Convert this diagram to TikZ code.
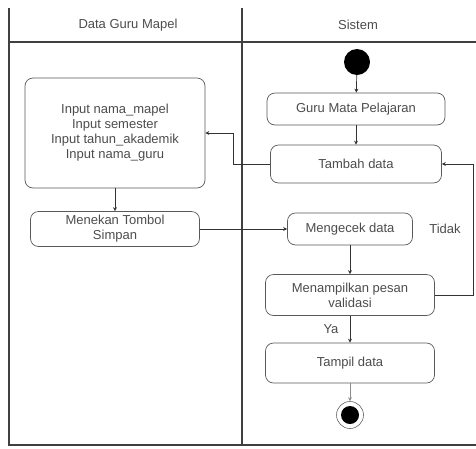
\documentclass[tikz,border=0pt]{standalone}
\usepackage{fontspec}
\setmainfont{Liberation Sans}
\usetikzlibrary{arrows.meta}
\newcommand{\dfont}{\fontsize{13}{15}\selectfont}
\tikzset{
  act/.style={draw=black!65, rounded corners=8pt, line width=0.7pt, align=center,
    font=\dfont, text=black!70, inner sep=0pt},
  flow/.style={-{Stealth[length=4pt,width=4pt]}, draw=black!80, line width=0.7pt},
  lane/.style={draw=black!75, line width=1.3pt},
  lbl/.style={font=\dfont, text=black!70, inner sep=0pt}
}
\begin{document}
\begin{tikzpicture}[x=1pt,y=-1pt]
\useasboundingbox (0,0) rectangle (476,448);
% swimlanes
\draw[lane] (9,8) -- (9,445) -- (476,445);
\draw[lane] (242,8) -- (242,445);
\draw[lane] (9,42) -- (476,42);
\node[lbl] (h1) at (128,25) {Data Guru Mapel};
\node[lbl] (h2) at (358,25) {Sistem};
% nodes
\node[circle, fill=black, minimum size=26pt, inner sep=0pt] (start) at (357,62) {};
\node[act, minimum width=178pt, minimum height=32pt] (guru) at (356,109) {Guru Mata Pelajaran};
\node[act, minimum width=171pt, minimum height=38pt] (tambah) at (356,164) {Tambah data};
\node[act, minimum width=125pt, minimum height=32pt] (cek) at (350,229) {Mengecek data};
\node[act, minimum width=169pt, minimum height=41pt] (pesan) at (350,295) {Menampilkan pesan\\validasi};
\node[act, minimum width=169pt, minimum height=40pt] (tampil) at (350,363) {Tampil data};
\node[circle, draw=black!60, line width=0.6pt, minimum size=27pt, inner sep=0pt] (end) at (350,415) {};
\node[circle, fill=black, minimum size=18pt, inner sep=0pt] (endin) at (350,415) {};
\node[act, minimum width=180pt, minimum height=110pt] (input) at (115,133)
  {Input nama\_mapel\\Input semester\\Input tahun\_akademik\\Input nama\_guru};
\node[act, minimum width=169pt, minimum height=35pt] (tekan) at (115,229) {Menekan Tombol\\Simpan};
\node[lbl] (tidak) at (445,229) {Tidak};
\node[lbl] (ya) at (331,329) {Ya};
\coordinate (c1) at (233,133);
\coordinate (c2) at (473,164);
% connectors
\draw[flow] (start) -- (guru);
\draw[flow] (guru) -- (tambah);
\draw[flow] (tambah.west) -| (c1) -- (input.east);
\draw[flow] (input) -- (tekan);
\draw[flow] (tekan) -- (cek);
\draw[flow] (cek) -- (pesan);
\draw[flow] (pesan.east) -| (c2) -- (tambah.east);
\draw[flow] (pesan) -- (tampil);
\draw[flow, draw=black!45] (tampil) -- (end);
\end{tikzpicture}
\end{document}
